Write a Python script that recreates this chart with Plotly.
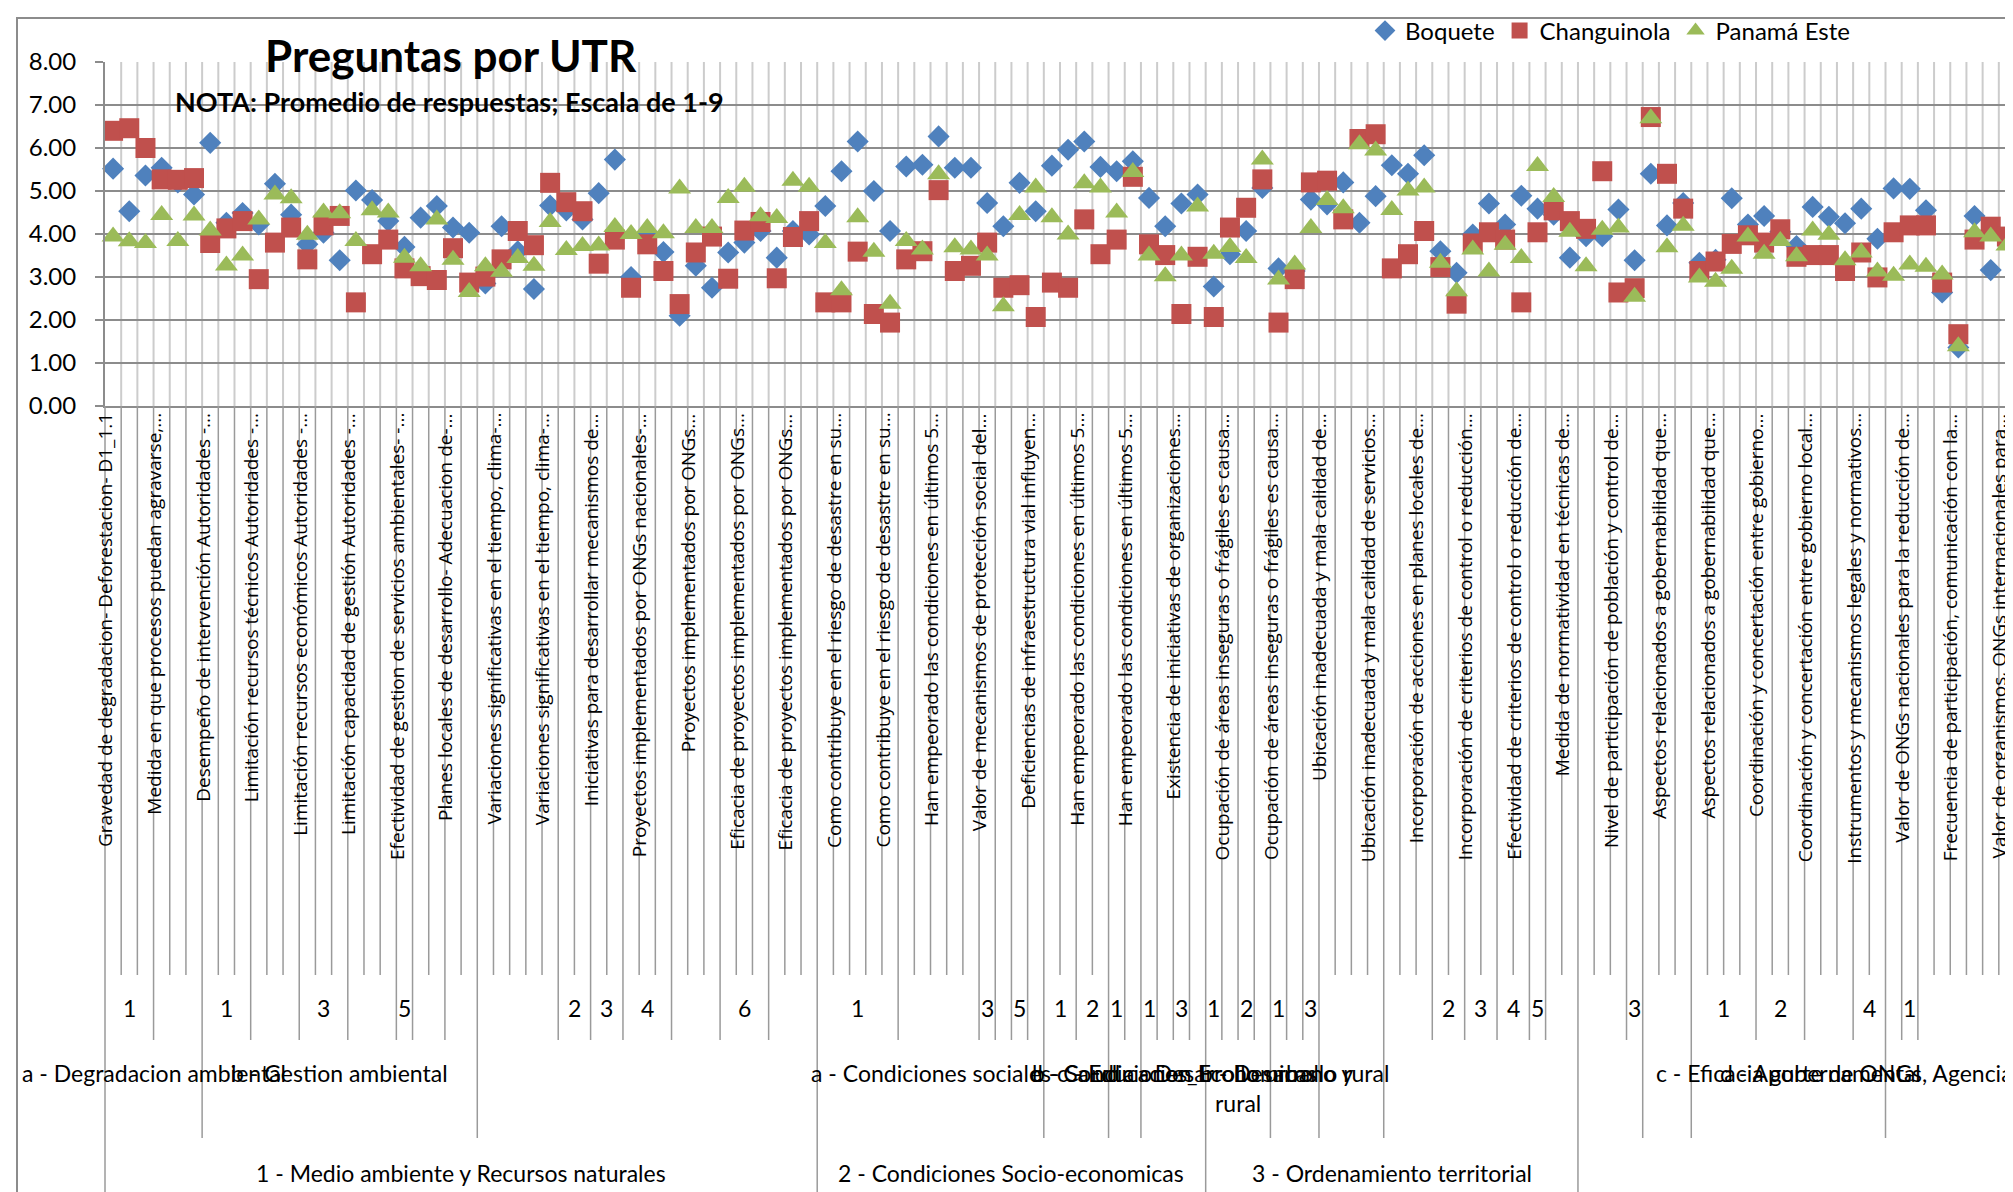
import plotly.graph_objects as go

# ---------------- data ----------------
boquete = [5.52, 4.53, 5.36, 5.54, 5.20, 4.92, 6.12, 4.26, 4.49, 4.22,
           5.17, 4.45, 3.76, 4.03, 3.39, 5.01, 4.79, 4.30, 3.70, 4.38,
           4.65, 4.15, 4.03, 2.85, 4.18, 3.60, 2.72, 4.66, 4.55, 4.34,
           4.95, 5.73, 3.00, 4.03, 3.58, 2.10, 3.26, 2.75, 3.57, 3.80,
           4.07, 3.45, 4.07, 3.99, 4.65, 5.46, 6.15, 5.00, 4.07, 5.57,
           5.61, 6.27, 5.54, 5.54, 4.72, 4.18, 5.19, 4.53, 5.59, 5.96,
           6.15, 5.56, 5.46, 5.69, 4.84, 4.18, 4.71, 4.92, 2.78, 3.53,
           4.07, 5.07, 3.20, 3.14, 4.80, 4.69, 5.20, 4.26, 4.88, 5.60,
           5.40, 5.83, 3.60, 3.10, 3.99, 4.71, 4.22, 4.89, 4.59, 4.45,
           3.45, 3.95, 3.95, 4.57, 3.39, 5.40, 4.20, 4.72, 3.33, 3.40,
           4.83, 4.22, 4.42, 4.05, 3.72, 4.63, 4.40, 4.25, 4.59, 3.89,
           5.06, 5.05, 4.55, 2.64, 1.36, 4.42, 3.16, 3.90]
changuinola = [6.40, 6.46, 6.00, 5.27, 5.26, 5.30, 3.79, 4.13, 4.30, 2.95,
               3.80, 4.15, 3.41, 4.20, 4.42, 2.41, 3.53, 3.87, 3.20, 3.02,
               2.93, 3.67, 2.87, 3.01, 3.41, 4.07, 3.74, 5.19, 4.74, 4.53,
               3.31, 3.87, 2.75, 3.76, 3.14, 2.37, 3.57, 3.94, 2.96, 4.08,
               4.28, 2.97, 3.93, 4.30, 2.41, 2.41, 3.59, 2.14, 1.94, 3.41,
               3.60, 5.02, 3.14, 3.26, 3.80, 2.75, 2.81, 2.07, 2.87, 2.75,
               4.34, 3.53, 3.87, 5.33, 3.76, 3.51, 2.14, 3.47, 2.07, 4.15,
               4.61, 5.27, 1.94, 2.95, 5.20, 5.24, 4.34, 6.21, 6.32, 3.20,
               3.53, 4.07, 3.23, 2.38, 3.78, 4.04, 3.87, 2.41, 4.04, 4.55,
               4.30, 4.12, 5.46, 2.64, 2.74, 6.72, 5.40, 4.59, 3.14, 3.36,
               3.77, 3.97, 3.80, 4.11, 3.47, 3.51, 3.51, 3.14, 3.57, 2.99,
               4.04, 4.20, 4.20, 2.87, 1.67, 3.87, 4.17, 3.94]
panama_este = [3.94, 3.83, 3.79, 4.44, 3.84, 4.43, 4.08, 3.27, 3.50, 4.34,
               4.92, 4.83, 3.98, 4.50, 4.48, 3.84, 4.55, 4.50, 3.45, 3.25,
               4.34, 3.40, 2.65, 3.25, 3.12, 3.44, 3.26, 4.28, 3.63, 3.72,
               3.73, 4.16, 4.00, 4.14, 4.02, 5.06, 4.14, 4.14, 4.84, 5.10,
               4.41, 4.37, 5.24, 5.10, 3.79, 2.69, 4.39, 3.59, 2.38, 3.84,
               3.64, 5.39, 3.69, 3.64, 3.50, 2.32, 4.44, 5.08, 4.39, 3.99,
               5.18, 5.08, 4.50, 5.44, 3.50, 3.02, 3.50, 4.64, 3.54, 3.70,
               3.44, 5.73, 2.94, 3.29, 4.14, 4.79, 4.60, 6.09, 5.94, 4.56,
               5.01, 5.08, 3.33, 2.67, 3.64, 3.13, 3.75, 3.44, 5.58, 4.86,
               4.05, 3.25, 4.10, 4.15, 2.54, 6.69, 3.69, 4.19, 2.99, 2.89,
               3.19, 3.94, 3.54, 3.84, 3.48, 4.08, 3.98, 3.39, 3.57, 3.13,
               3.03, 3.29, 3.24, 3.06, 1.39, 4.04, 3.94, 3.73]

# question labels (shown on every third category)
tick_labels = [
    "Gravedad de degradacion- Deforestacion- D1_1.1",
    "Medida en que procesos puedan agravarse,...",
    "Desempeño de intervención Autoridades -...",
    "Limitación recursos técnicos Autoridades -...",
    "Limitación recursos económicos Autoridades -...",
    "Limitación capacidad de gestión Autoridades -...",
    "Efectividad de gestion de servicios ambientales- -...",
    "Planes locales de desarrollo- Adecuacion de-...",
    "Variaciones significativas en el tiempo, clima-...",
    "Variaciones significativas en el tiempo, clima-...",
    "Iniciativas para desarrollar mecanismos de...",
    "Proyectos implementados por ONGs nacionales-...",
    "Proyectos implementados por ONGs...",
    "Eficacia de proyectos implementados por ONGs...",
    "Eficacia de proyectos implementados por ONGs...",
    "Como contribuye en el riesgo de desastre en su...",
    "Como contribuye en el riesgo de desastre en su...",
    "Han empeorado las condiciones en últimos 5...",
    "Valor de mecanismos de protección social del...",
    "Deficiencias de infraestructura vial influyen...",
    "Han empeorado las condiciones en últimos 5...",
    "Han empeorado las condiciones en últimos 5...",
    "Existencia de iniciativas de organizaciones...",
    "Ocupación de áreas inseguras o frágiles es causa...",
    "Ocupación de áreas inseguras o frágiles es causa...",
    "Ubicación inadecuada y mala calidad de...",
    "Ubicación inadecuada y mala calidad de servicios...",
    "Incorporación de acciones en planes locales de...",
    "Incorporación de criterios de control o reducción...",
    "Efectividad de criterios de control o reducción de...",
    "Medida de normatividad en técnicas de...",
    "Nivel de participación de población y control de...",
    "Aspectos relacionados a gobernabilidad que...",
    "Aspectos relacionados a gobernabilidad que...",
    "Coordinación y concertación entre gobierno...",
    "Coordinación y concertación entre gobierno local...",
    "Instrumentos y mecanismos legales y normativos...",
    "Valor de ONGs nacionales para la reducción de...",
    "Frecuencia de participación, comunicación con la...",
    "Valor de organismos, ONGs internacionales para...",
]
label_step = 3

# category hierarchy: (first index, last index, label)
level2 = [(0, 2, "1"), (3, 5, ""), (6, 8, "1"), (9, 11, ""), (12, 14, "3"), (15, 17, ""),
          (18, 18, "5"), (19, 20, ""), (21, 22, ""), (23, 27, ""), (28, 29, "2"), (30, 31, "3"),
          (32, 34, "4"), (35, 37, ""), (38, 40, "6"), (41, 43, ""),
          (44, 48, "1"), (49, 53, ""), (54, 54, "3"), (55, 55, ""), (56, 56, "5"), (57, 57, ""),
          (58, 59, "1"), (60, 61, "2"), (62, 62, "1"), (63, 63, ""), (64, 64, "1"), (65, 65, ""),
          (66, 66, "3"), (67, 67, ""),
          (68, 68, "1"), (69, 69, ""), (70, 70, "2"), (71, 71, ""), (72, 72, "1"), (73, 73, ""),
          (74, 74, "3"), (75, 78, ""), (79, 81, ""), (82, 83, "2"), (84, 85, "3"), (86, 87, "4"),
          (88, 88, "5"), (89, 90, ""),
          (91, 93, ""), (94, 94, "3"), (95, 97, ""), (98, 101, "1"), (102, 104, "2"),
          (105, 107, ""), (108, 109, "4"), (110, 110, ""), (111, 111, "1"), (112, 117, "")]
level3 = [(0, 5, "a - Degradacion ambiental"), (6, 22, "b - Gestion ambiental"), (23, 43, ""),
          (44, 57, "a - Condiciones sociales"), (58, 61, "b - Salud"), (62, 63, "c - Educacion"),
          (64, 67, "d - Condiciones_Economicas"), (68, 71, "a - Desarrollo urbano y<br>rural"),
          (72, 74, "b - Desarrollo rural"), (75, 78, ""), (79, 90, ""),
          (91, 94, ""), (95, 97, ""), (98, 109, "c - Eficacia gubernamental"),
          (110, 117, "d - Aporte de ONGs, Agencias internacionales")]
level4 = [(0, 43, "1 - Medio ambiente y Recursos naturales"),
          (44, 67, "2 - Condiciones Socio-economicas"),
          (68, 90, "3 - Ordenamiento territorial"),
          (91, 117, "")]

series = [("Boquete", boquete, "diamond", "#4F81BD", 17),
          ("Changuinola", changuinola, "square", "#C0504D", 20),
          ("Panamá Este", panama_este, "triangle-up", "#9BBB59", 20)]

# ---------------- figure ----------------
N = len(boquete)
x = list(range(N))
W, H = 2013, 1192
ML, MR, MT, MB = 97, 6, 54, 794
plot_h = H - MT - MB
plot_w = W - ML - MR


def py(ypix):  # pixel row -> paper y
    return (H - MB - ypix) / plot_h


def px(xpix):  # pixel column -> paper x
    return (xpix - ML) / plot_w


fig = go.Figure()
for name, vals, sym, col, size in series:
    fig.add_trace(go.Scatter(x=x, y=vals, mode="markers", name=name,
                             marker=dict(symbol=sym, color=col, size=size, line=dict(width=0)),
                             cliponaxis=False))

shapes = []
# vertical category gridlines inside the plot
for k in range(1, N):
    shapes.append(dict(type="line", xref="paper", yref="paper", x0=k / N, x1=k / N, y0=0, y1=1,
                       line=dict(color="#cccccc", width=2), layer="below"))

# separators below the axis, depth by hierarchy level
bottoms = [py(967), py(1032), py(1130), py(1200)]
depth = {k: 0 for k in range(N + 1)}
for lvl, groups in enumerate([level2, level3, level4], start=1):
    for s, e, _ in groups:
        depth[s] = max(depth[s], lvl)
        depth[e + 1] = max(depth[e + 1], lvl)
for k in range(N + 1):
    shapes.append(dict(type="line", xref="paper", yref="paper", x0=k / N, x1=k / N,
                       y0=0, y1=bottoms[depth[k]], line=dict(color="#9a9a9a", width=1.5)))

# outer chart border
shapes.append(dict(type="rect", xref="paper", yref="paper",
                   x0=px(9), x1=px(2040), y0=py(1220), y1=py(10),
                   line=dict(color="#8c8c8c", width=2)))

annotations = []
FONT = "Lato"
# rotated question labels (category axis, first level)
for idx, t in zip(x[::label_step], tick_labels):
    annotations.append(dict(x=idx, y=py(404), xref="x", yref="paper", text=t,
                            textangle=-90, xanchor="center", yanchor="top", showarrow=False,
                            xshift=-8, borderpad=0,
                            font=dict(family="Open Sans", size=19, color="black")))
for s, e, t in level2:
    if t:
        annotations.append(dict(x=(s + e) / 2, y=py(1000), xref="x", yref="paper", text=t,
                                xanchor="center", yanchor="middle", showarrow=False,
                                font=dict(family=FONT, size=23, color="black")))
for s, e, t in level3:
    if t:
        annotations.append(dict(x=(s + e) / 2, y=py(1049), xref="x", yref="paper", text=t,
                                xanchor="center", yanchor="top", showarrow=False,
                                font=dict(family=FONT, size=23, color="black")))
for s, e, t in level4:
    if t:
        annotations.append(dict(x=(s + e) / 2, y=py(1165), xref="x", yref="paper", text=t,
                                xanchor="center", yanchor="middle", showarrow=False,
                                font=dict(family=FONT, size=23, color="black")))

annotations.append(dict(x=px(443), y=py(47), xref="paper", yref="paper",
                        xanchor="center", yanchor="middle",
                        text="<b>Preguntas por UTR</b>", showarrow=False,
                        font=dict(family=FONT, size=44, color="black")))
annotations.append(dict(x=px(165), y=py(93), xref="paper", yref="paper",
                        xanchor="left", yanchor="middle",
                        text="<b>NOTA: Promedio de respuestas; Escala de 1-9</b>",
                        showarrow=False, font=dict(family=FONT, size=27, color="black")))

fig.update_layout(
    width=W, height=H,
    margin=dict(l=ML, r=MR, t=MT, b=MB, autoexpand=False),
    paper_bgcolor="white", plot_bgcolor="white",
    shapes=shapes, annotations=annotations,
    legend=dict(orientation="h", x=px(1357), xanchor="left",
                y=py(23), yanchor="middle", font=dict(family=FONT, size=24, color="black"),
                bgcolor="rgba(0,0,0,0)", itemwidth=30),
    xaxis=dict(range=[-0.5, N - 0.5], showticklabels=False,
               showgrid=False, zeroline=False, showline=True, linecolor="#8c8c8c",
               linewidth=2, ticks="", automargin=False),
    yaxis=dict(range=[0, 8], tickmode="linear", tick0=0, dtick=1, tickformat=".2f",
               tickfont=dict(family=FONT, size=24, color="black"),
               showgrid=True, gridcolor="#8c8c8c", gridwidth=2, zeroline=False,
               showline=True, linecolor="#8c8c8c", linewidth=2,
               ticks="outside", ticklen=8, tickcolor="#8c8c8c", tickwidth=2,
               ticklabelstandoff=14, automargin=False),
)

fig.write_html("out.html")
